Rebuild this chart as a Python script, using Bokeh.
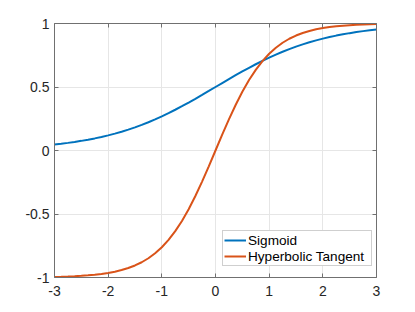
from bokeh.plotting import figure
from bokeh.models import Range1d, FixedTicker, LinearAxis, Legend, LegendItem
from bokeh.embed import file_html
from bokeh.resources import INLINE

x = [-3.0, -2.875, -2.75, -2.625, -2.5, -2.375, -2.25, -2.125, -2.0, -1.875, -1.75, -1.625,
     -1.5, -1.375, -1.25, -1.125, -1.0, -0.875, -0.75, -0.625, -0.5, -0.375, -0.25, -0.125,
     0.0, 0.125, 0.25, 0.375, 0.5, 0.625, 0.75, 0.875, 1.0, 1.125, 1.25, 1.375,
     1.5, 1.625, 1.75, 1.875, 2.0, 2.125, 2.25, 2.375, 2.5, 2.625, 2.75, 2.875, 3.0]

sigmoid = [0.0474, 0.0534, 0.0601, 0.0675, 0.0759, 0.0851, 0.0953, 0.1067, 0.1192, 0.1330, 0.1480, 0.1645,
           0.1824, 0.2018, 0.2227, 0.2451, 0.2689, 0.2942, 0.3208, 0.3487, 0.3775, 0.4073, 0.4378, 0.4688,
           0.5000, 0.5312, 0.5622, 0.5927, 0.6225, 0.6513, 0.6792, 0.7058, 0.7311, 0.7549, 0.7773, 0.7982,
           0.8176, 0.8355, 0.8520, 0.8670, 0.8808, 0.8933, 0.9047, 0.9149, 0.9241, 0.9325, 0.9399, 0.9466, 0.9526]

tanh_vals = [-0.9951, -0.9937, -0.9918, -0.9896, -0.9866, -0.9828, -0.9780, -0.9719, -0.9640, -0.9540, -0.9414, -0.9253,
             -0.9051, -0.8798, -0.8483, -0.8093, -0.7616, -0.7039, -0.6351, -0.5546, -0.4621, -0.3584, -0.2449, -0.1244,
             0.0, 0.1244, 0.2449, 0.3584, 0.4621, 0.5546, 0.6351, 0.7039, 0.7616, 0.8093, 0.8483, 0.8798,
             0.9051, 0.9253, 0.9414, 0.9540, 0.9640, 0.9719, 0.9780, 0.9828, 0.9866, 0.9896, 0.9918, 0.9937, 0.9951]

x_ticks = [-3, -2, -1, 0, 1, 2, 3]
x_tick_labels = ["-3", "-2", "-1", "0", "1", "2", "3"]
y_ticks = [-1, -0.5, 0, 0.5, 1]
y_tick_labels = ["-1", "-0.5", "0", "0.5", "1"]
series_names = ["Sigmoid", "Hyperbolic Tangent"]

FONT = "Liberation Sans"
AX = "#262626"
AXLINE = "#707070"

p = figure(width=415, height=312, output_backend="svg", toolbar_location=None,
           x_range=Range1d(-3, 3), y_range=Range1d(-1, 1),
           min_border_left=54, min_border_right=39, min_border_top=23, min_border_bottom=35)
p.outline_line_color = None
p.background_fill_color = "white"
p.border_fill_color = "white"

def style_axis(ax, ticks, labels, show_labels=True):
    ax.ticker = FixedTicker(ticks=ticks)
    if show_labels:
        ax.major_label_overrides = {t: l for t, l in zip(ticks, labels)}
    else:
        ax.major_label_overrides = {t: "" for t in ticks}
    ax.minor_tick_line_color = None
    ax.major_tick_in = 4
    ax.major_tick_out = 0
    ax.major_tick_line_color = AXLINE
    ax.axis_line_color = AXLINE
    ax.axis_line_width = 1
    ax.major_label_text_font = FONT
    ax.major_label_text_font_size = "14px"
    ax.major_label_text_color = AX
    ax.major_label_standoff = 6 if show_labels else 0

style_axis(p.xaxis[0], x_ticks, x_tick_labels)
style_axis(p.yaxis[0], y_ticks, y_tick_labels)
p.xaxis[0].major_label_standoff = 8
p.yaxis[0].major_label_standoff = 5

top = LinearAxis()
style_axis(top, x_ticks, x_tick_labels, show_labels=False)
p.add_layout(top, "above")
right = LinearAxis()
style_axis(right, y_ticks, y_tick_labels, show_labels=False)
p.add_layout(right, "right")

p.xgrid.ticker = FixedTicker(ticks=x_ticks)
p.ygrid.ticker = FixedTicker(ticks=y_ticks)
p.xgrid.grid_line_color = "#e6e6e6"
p.ygrid.grid_line_color = "#e6e6e6"

r1 = p.line(x, sigmoid, line_color="#0072BD", line_width=2)
r2 = p.line(x, tanh_vals, line_color="#D95319", line_width=2)

legend = Legend(items=[LegendItem(label=series_names[0], renderers=[r1]),
                       LegendItem(label=series_names[1], renderers=[r2])],
                location=(168, 11))
legend.label_text_font = FONT
legend.label_text_font_size = "13.6px"
legend.label_text_color = "#000000"
legend.glyph_width = 22
legend.glyph_height = 16
legend.label_height = 16
legend.label_width = 122
legend.label_standoff = 2
legend.padding = 1
legend.spacing = 0
legend.margin = 0
legend.border_line_color = "#a0a0a0"
legend.border_line_width = 1
legend.background_fill_color = "white"
legend.background_fill_alpha = 1
p.add_layout(legend, "center")

open("out.html", "w").write(file_html(p, INLINE))
